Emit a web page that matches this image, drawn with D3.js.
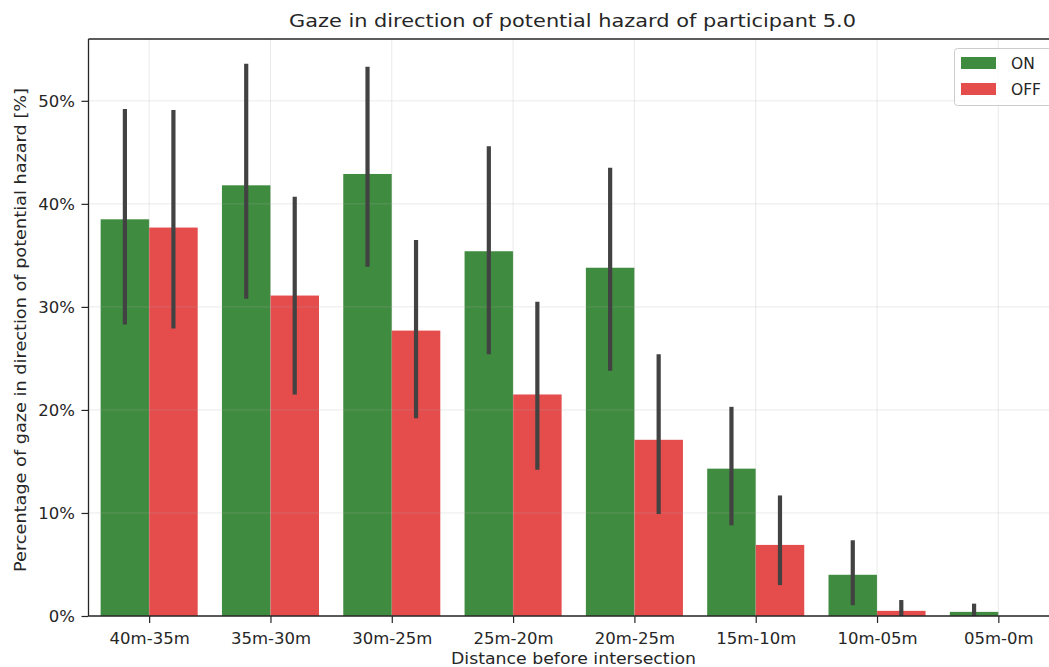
<!DOCTYPE html>
<html><head><meta charset="utf-8">
<script src="https://cdn.jsdelivr.net/npm/d3@7"></script>
<style>body{margin:0;background:#fff;} svg{display:block;} text{font-family:"DejaVu Sans",sans-serif;fill:#262626;}</style>
</head><body><svg id="c" width="1049" height="667"></svg>
<script>
const categories = ["40m-35m","35m-30m","30m-25m","25m-20m","20m-25m","15m-10m","10m-05m","05m-0m"];
const series = ["ON","OFF"];
const onValues  = [38.5, 41.8, 42.9, 35.4, 33.8, 14.3, 4.0, 0.4];
const onLow     = [28.3, 30.8, 33.9, 25.4, 23.8, 8.8, 1.05, 0.0];
const onHigh    = [49.2, 53.6, 53.3, 45.6, 43.5, 20.3, 7.35, 1.2];
const offValues = [37.7, 31.1, 27.7, 21.5, 17.1, 6.9, 0.5, 0.0];
const offLow    = [27.9, 21.5, 19.2, 14.2, 9.9, 3.0, 0.0, null];
const offHigh   = [49.1, 40.7, 36.5, 30.5, 25.4, 11.7, 1.55, null];
const yTicks = [0,10,20,30,40,50];
const colors = {ON:"#3f8b3f", OFF:"#e54c4c"};

const svg = d3.select("#c");
const m = {left:88.5, right:1059, top:39, bottom:616};
const x = d3.scaleBand().domain(categories).range([m.left, m.right]).paddingInner(0.2).paddingOuter(0.1);
const xc = d3.scalePoint().domain(categories).range([m.left, m.right]).padding(0.5);
const y = d3.scaleLinear().domain([0, 56]).range([m.bottom, m.top]);
const xs = d3.scaleBand().domain(series).range([0, x.bandwidth()]);

const rows = [];
categories.forEach((c,i)=>{
  rows.push({c, s:"ON", v:onValues[i], lo:onLow[i], hi:onHigh[i]});
  rows.push({c, s:"OFF", v:offValues[i], lo:offLow[i], hi:offHigh[i]});
});

// bars
svg.append("g").selectAll("rect").data(rows).join("rect")
  .attr("x", d=>x(d.c)+xs(d.s)).attr("width", xs.bandwidth())
  .attr("y", d=>y(d.v)).attr("height", d=>y(0)-y(d.v))
  .attr("fill", d=>colors[d.s]);

// grid (drawn above bars, light)
const grid = svg.append("g").attr("stroke","#b0b0b0").attr("stroke-opacity",0.25).attr("stroke-width",1);
yTicks.forEach(t=>grid.append("line").attr("x1",m.left).attr("x2",m.right).attr("y1",y(t)).attr("y2",y(t)));
categories.forEach(c=>grid.append("line").attr("x1",xc(c)).attr("x2",xc(c)).attr("y1",m.top).attr("y2",m.bottom));

// error bars
svg.append("g").selectAll("line").data(rows.filter(d=>d.lo!==null)).join("line")
  .attr("x1", d=>x(d.c)+xs(d.s)+xs.bandwidth()/2).attr("x2", d=>x(d.c)+xs(d.s)+xs.bandwidth()/2)
  .attr("y1", d=>y(d.lo)).attr("y2", d=>y(d.hi))
  .attr("stroke","#424242").attr("stroke-width",4.2);

// axes
const yAxis = d3.axisLeft(y).tickValues(yTicks).tickFormat(d=>d+"%").tickSize(7).tickPadding(6.5);
const gy = svg.append("g").attr("transform",`translate(${m.left},0)`).call(yAxis);
const xAxis = d3.axisBottom(xc).tickSize(7).tickPadding(9);
const gx = svg.append("g").attr("transform",`translate(0,${m.bottom})`).call(xAxis);
[gx,gy].forEach(g=>{
  g.select(".domain").remove();
  g.selectAll(".tick line").attr("stroke","#262626").attr("stroke-width",1.2);
  g.selectAll(".tick text").attr("font-size","16.5px").attr("fill","#262626").style("font-family","DejaVu Sans");
});
// spines
svg.append("line").attr("x1",m.left).attr("x2",m.left).attr("y1",m.top).attr("y2",m.bottom).attr("stroke","#262626").attr("stroke-width",1.3);
svg.append("line").attr("x1",m.left).attr("x2",m.right).attr("y1",m.bottom).attr("y2",m.bottom).attr("stroke","#262626").attr("stroke-width",1.3);
svg.append("line").attr("x1",m.left).attr("x2",m.right).attr("y1",m.top).attr("y2",m.top).attr("stroke","#262626").attr("stroke-width",1.3);

// labels
svg.append("text").attr("x",572.5).attr("y",27).attr("text-anchor","middle").attr("font-size","18px")
  .attr("textLength",567).attr("lengthAdjust","spacingAndGlyphs")
  .text("Gaze in direction of potential hazard of participant 5.0");
svg.append("text").attr("x",573.5).attr("y",664).attr("text-anchor","middle").attr("font-size","16px")
  .attr("textLength",245).attr("lengthAdjust","spacingAndGlyphs")
  .text("Distance before intersection");
svg.append("text").attr("transform",`translate(26,330) rotate(-90)`).attr("text-anchor","middle").attr("font-size","16px")
  .attr("textLength",484).attr("lengthAdjust","spacingAndGlyphs")
  .text("Percentage of gaze in direction of potential hazard [%]");

// legend
const lg = svg.append("g");
lg.append("rect").attr("x",954.5).attr("y",48.5).attr("width",100).attr("height",57).attr("rx",3)
  .attr("fill","#fff").attr("fill-opacity",0.8).attr("stroke","#cccccc");
series.forEach((s,i)=>{
  lg.append("rect").attr("x",961).attr("y",57+i*26).attr("width",35).attr("height",12).attr("fill",colors[s]);
  lg.append("text").attr("x",1011).attr("y",69+i*26).attr("font-size","15.5px").text(s);
});
</script></body></html>
